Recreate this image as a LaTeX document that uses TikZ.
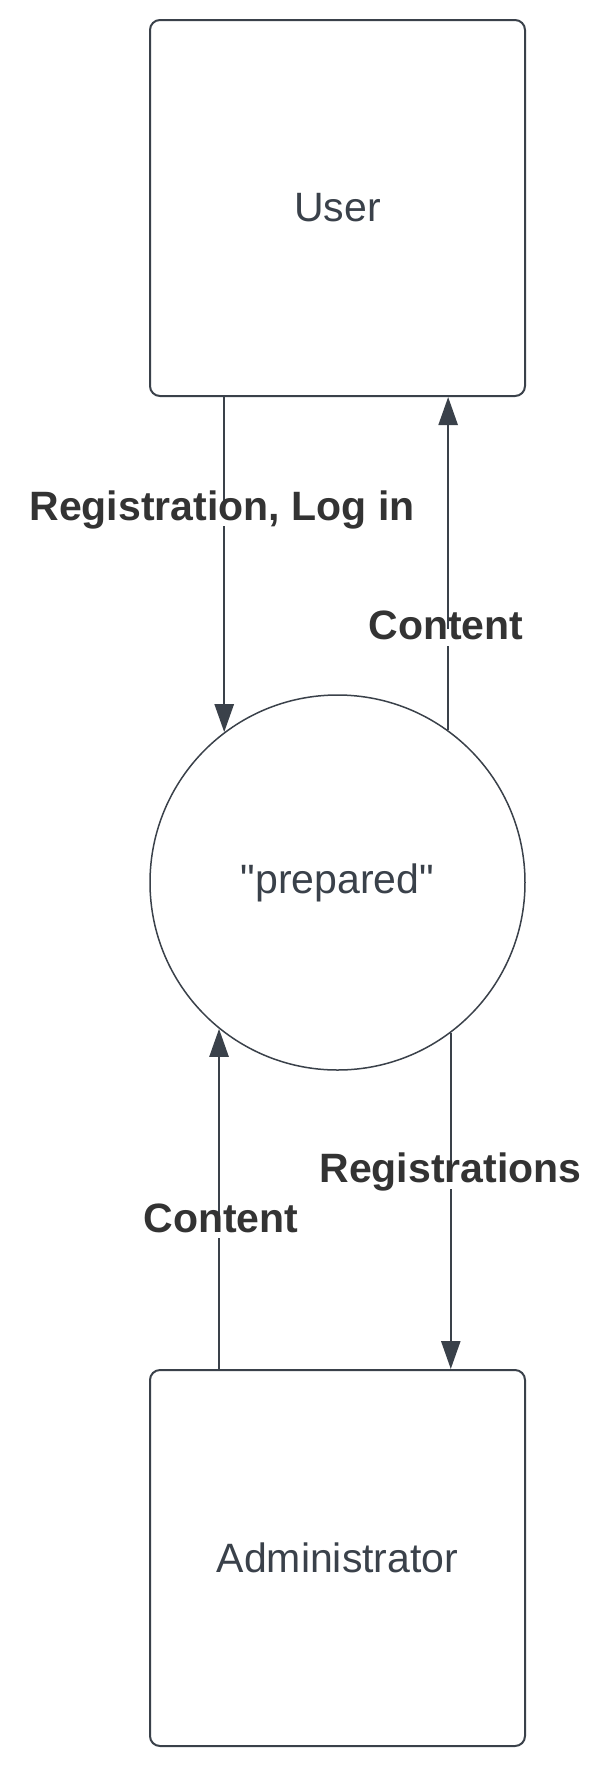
\documentclass[tikz,border=0pt]{standalone}
\usepackage{fontspec}
\setmainfont{Liberation Sans}
\newfontfamily\plainquotefont{Liberation Sans}[Ligatures=ResetAll]
\usetikzlibrary{arrows.meta}
\definecolor{lineclr}{RGB}{58,65,74}
\definecolor{labelclr}{RGB}{51,51,51}
\tikzset{
  entity/.style={draw=lineclr, line width=2pt, rounded corners=10pt, minimum width=375pt, minimum height=376pt, inner sep=0pt, text=lineclr, font=\fontsize{41}{48}\selectfont},
  process/.style={draw=lineclr, line width=1.5pt, circle, minimum size=375pt, inner sep=0pt, text=lineclr, font=\plainquotefont\fontsize{41}{48}\selectfont},
  flow/.style={draw=lineclr, line width=2.5pt, -{Triangle[length=28pt, width=19pt]}},
  flowlabel/.style={fill=white, text=labelclr, font=\bfseries\fontsize{41}{48}\selectfont, anchor=base, inner xsep=2pt, inner ysep=3pt, text height=0.72em, text depth=0.34em}
}
\begin{document}
\begin{tikzpicture}[x=1pt, y=-1pt]
\useasboundingbox (0,0) rectangle (609,1770);
\node[entity] (user) at (337.5,208) {User};
\node[process] (proc) at (337.5,882.5) {"prepared"};
\node[entity] (admin) at (337.5,1558) {Administrator};

\draw[flow] (user.south -| proc.127.8) -- (proc.127.8);
\draw[flow] (proc.54.6) -- (proc.54.6 |- user.south);
\draw[flow] (admin.north -| proc.231.6) -- (proc.231.6);
\draw[flow] (proc.307.1) -- (proc.307.1 |- admin.north);

\node[flowlabel] (l1) at (222,520) {Registration, Log in};
\node[flowlabel] (l2) at (446,639.3) {Content};
\node[flowlabel] (l3) at (450.5,1182.3) {Registrations};
\node[flowlabel] (l4) at (221,1232) {Content};
\end{tikzpicture}
\end{document}
